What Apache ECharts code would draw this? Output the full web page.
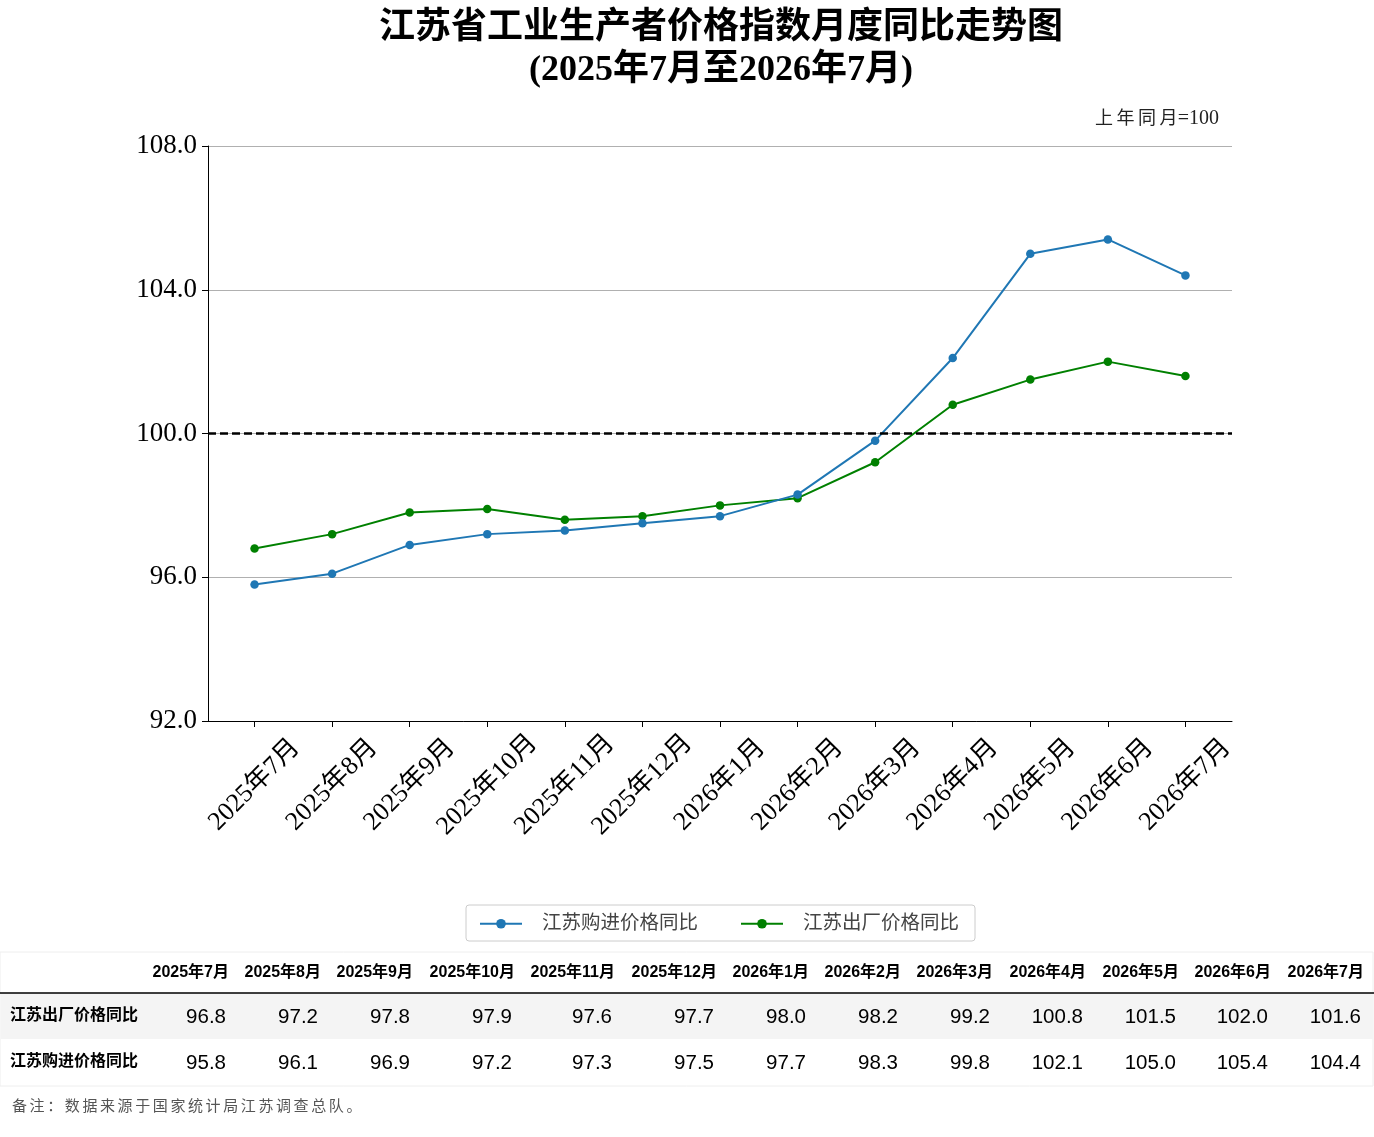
<!DOCTYPE html>
<html><head><meta charset="utf-8">
<script src="https://cdn.jsdelivr.net/npm/echarts@6/dist/echarts.min.js"></script>
<style>html,body{margin:0;padding:0;background:#fff}#c{width:1374px;height:1137px}</style>
</head><body><div id="c"></div>
<script>
const categories = ['2025年7月','2025年8月','2025年9月','2025年10月','2025年11月','2025年12月','2026年1月','2026年2月','2026年3月','2026年4月','2026年5月','2026年6月','2026年7月'];
const purchaseValues = [95.8,96.1,96.9,97.2,97.3,97.5,97.7,98.3,99.8,102.1,105.0,105.4,104.4];
const outputValues = [96.8,97.2,97.8,97.9,97.6,97.7,98.0,98.2,99.2,100.8,101.5,102.0,101.6];
const yTicks = [92,96,100,104,108];
const seriesNames = ['江苏购进价格同比','江苏出厂价格同比'];
const tableRowNames = ['江苏出厂价格同比','江苏购进价格同比'];
const noteText = '备注：数据来源于国家统计局江苏调查总队。';
const unitCjk = '上年同月';
const unitRest = '=100';

const serif = '"Liberation Serif","Noto Sans CJK SC",serif';
const sans = '"Liberation Sans","Noto Sans CJK SC",sans-serif';

const chart = echarts.init(document.getElementById('c'), null, {renderer:'canvas'});
const idx = categories.map((_, i) => i);

// table graphics
const colRight = [229,321,413,515,615,717,809,901,993,1086,1179,1271,1364];
const g = [];
g.push({type:'rect', shape:{x:0,y:952,width:1373,height:134}, style:{fill:'#fff', stroke:'#eeeeee', lineWidth:1}, silent:true});
g.push({type:'rect', shape:{x:1,y:993,width:1372,height:46}, style:{fill:'#f4f4f4'}, silent:true});
g.push({type:'line', shape:{x1:0,y1:993,x2:1374,y2:993}, style:{stroke:'#000', lineWidth:1.5}, silent:true});
categories.forEach((c, i) => {
  g.push({type:'text', x:colRight[i], y:973, style:{text:c, font:'bold 16px ' + sans, fill:'#000', align:'right', verticalAlign:'middle'}});
});
const rows = [outputValues, purchaseValues];
const rowY = [1016, 1062];
rows.forEach((vals, r) => {
  g.push({type:'text', x:10, y:rowY[r], style:{text:tableRowNames[r], font:'bold 16px ' + sans, fill:'#000', align:'left', verticalAlign:'middle'}});
  vals.forEach((v, i) => {
    g.push({type:'text', x:colRight[i]-3, y:rowY[r]+1, style:{text:v.toFixed(1), font:'20.5px ' + sans, fill:'#000', align:'right', verticalAlign:'middle'}});
  });
});
// footnote, spaced characters
Array.from(noteText).forEach((ch, i) => {
  g.push({type:'text', x:12 + i*17.6, y:1107, style:{text:ch, font:'15px ' + serif, fill:'#555', align:'left', verticalAlign:'middle'}});
});
// unit note (right aligned, spaced CJK)
g.push({type:'text', x:1219, y:119, style:{text:unitRest, font:'20px ' + serif, fill:'#222', align:'right', verticalAlign:'middle'}});
Array.from(unitCjk).forEach((ch, i) => {
  g.push({type:'text', x:1219 - 38 - (4 - i)*21.5, y:119, style:{text:ch, font:'18px ' + serif, fill:'#222', align:'left', verticalAlign:'middle'}});
});
// legend frame
g.push({type:'rect', shape:{x:466,y:905,width:509,height:36,r:3}, style:{fill:'#fff', stroke:'#cccccc', lineWidth:1}, silent:true, z:-1});

chart.setOption({
  animation:false,
  backgroundColor:'#fff',
  title:{
    text:'江苏省工业生产者价格指数月度同比走势图\n(2025年7月至2026年7月)',
    left:716, top:3, textAlign:'center',
    textStyle:{fontFamily:serif, fontWeight:'bold', fontSize:36, lineHeight:42, color:'#000'}
  },
  legend:{
    data:seriesNames, left:474, top:909, itemWidth:42, itemHeight:12, itemGap:42,
    textStyle:{fontFamily:serif, fontSize:19.5, color:'#444', padding:[0,0,0,15]},
    selectedMode:false
  },
  grid:{left:208, right:142, top:146, bottom:416, containLabel:false},
  xAxis:{
    type:'value', min:-0.6, max:12.6,
    axisLine:{show:true, onZero:false, lineStyle:{color:'#000', width:1}},
    axisTick:{show:true, customValues:idx, length:6, lineStyle:{color:'#000'}},
    axisLabel:{customValues:idx, rotate:45, fontFamily:serif, fontSize:26, color:'#000', margin:64,
      align:'center', verticalAlign:'middle',
      formatter:v => categories[Math.round(v)] || ''},
    splitLine:{show:false}
  },
  yAxis:{
    type:'value', min:yTicks[0], max:yTicks[yTicks.length-1], interval:4,
    axisLine:{show:true, onZero:false, lineStyle:{color:'#000', width:1}},
    axisTick:{show:true, length:6, lineStyle:{color:'#000'}},
    axisLabel:{fontFamily:serif, fontSize:27, color:'#000', margin:11, formatter:v => v.toFixed(1)},
    splitLine:{show:true, lineStyle:{color:'#b0b0b0', width:1}}
  },
  series:[
    {name:seriesNames[0], type:'line', data:purchaseValues.map((v,i)=>[i,v]),
     color:'#1f77b4', lineStyle:{width:2}, symbol:'circle', symbolSize:8.5, z:3,
     markLine:{silent:true, symbol:'none', label:{show:false}, data:[{yAxis:100}],
       lineStyle:{color:'#000', type:[8,4], width:2.5}}},
    {name:seriesNames[1], type:'line', data:outputValues.map((v,i)=>[i,v]),
     color:'#008000', lineStyle:{width:2}, symbol:'circle', symbolSize:8.5, z:2}
  ],
  graphic:g
});
</script></body></html>
